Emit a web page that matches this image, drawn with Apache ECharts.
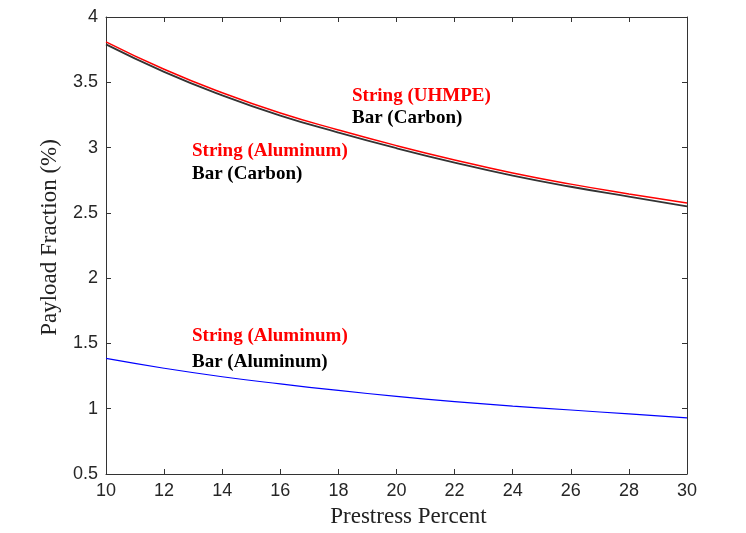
<!DOCTYPE html>
<html>
<head>
<meta charset="utf-8">
<script src="https://cdn.jsdelivr.net/npm/echarts@6/dist/echarts.min.js"></script>
<style>
    html, body { margin: 0; padding: 0; background: #fff; }
    #chart { width: 746px; height: 533px; }
</style>
</head>
<body>
<div id="chart"></div>
<script>
var prestress = [10, 12, 14, 16, 18, 20, 22, 24, 26, 28, 30];
var uhmpeCarbon = [3.81, 3.60, 3.42, 3.265, 3.135, 3.015, 2.905, 2.805, 2.72, 2.645, 2.575];
var aluCarbon = [3.79, 3.58, 3.40, 3.245, 3.115, 2.995, 2.885, 2.785, 2.70, 2.625, 2.55];
var aluAlu = [1.385, 1.31, 1.245, 1.19, 1.14, 1.095, 1.055, 1.02, 0.99, 0.96, 0.93];

var axisColor = '#333';
var chart = echarts.init(document.getElementById('chart'));

function pairs(vals) {
    return prestress.map(function (x, i) { return [x, vals[i]]; });
}
function line(name, vals, color, width) {
    return {
        name: name,
        type: 'line',
        data: pairs(vals),
        smooth: true,
        showSymbol: false,
        lineStyle: { color: color, width: width }
    };
}
var labelFont = 'bold 19px "Liberation Serif", "Times New Roman", serif';
function note(x, y, txt, color) {
    return { type: 'text', left: x, top: y, style: { text: txt, fill: color, font: labelFont } };
}

var option = {
    animation: false,
    grid: { left: 106, top: 17, right: 59, bottom: 59 },
    xAxis: [{
        type: 'value',
        min: 10, max: 30, interval: 2,
        name: 'Prestress Percent',
        nameLocation: 'middle',
        nameGap: 31,
        nameTextStyle: { fontFamily: 'Liberation Serif', fontSize: 23, color: '#222', padding: [0, 0, 0, 24] },
        axisLine: { lineStyle: { color: axisColor } },
        axisTick: { inside: true, length: 5, lineStyle: { color: axisColor } },
        axisLabel: { fontFamily: 'Liberation Sans', fontSize: 18, color: '#262626', margin: 8 },
        splitLine: { show: false }
    }, {
        type: 'value',
        position: 'top',
        min: 10, max: 30, interval: 2,
        axisLine: { show: true, lineStyle: { color: axisColor } },
        axisTick: { inside: true, length: 5, lineStyle: { color: axisColor } },
        axisLabel: { show: false },
        splitLine: { show: false }
    }],
    yAxis: [{
        type: 'value',
        min: 0.5, max: 4, interval: 0.5,
        name: 'Payload Fraction (%)',
        nameLocation: 'middle',
        nameGap: 45,
        nameTextStyle: { fontFamily: 'Liberation Serif', fontSize: 23, color: '#222', padding: [0, 0, 0, 16] },
        axisLine: { show: true, lineStyle: { color: axisColor } },
        axisTick: { show: true, inside: true, length: 5, lineStyle: { color: axisColor } },
        axisLabel: { fontFamily: 'Liberation Sans', fontSize: 18, color: '#262626', margin: 8 },
        splitLine: { show: false }
    }, {
        type: 'value',
        position: 'right',
        min: 0.5, max: 4, interval: 0.5,
        axisLine: { show: true, lineStyle: { color: axisColor } },
        axisTick: { show: true, inside: true, length: 5, lineStyle: { color: axisColor } },
        axisLabel: { show: false },
        splitLine: { show: false }
    }],
    series: [
        line('Bar (Carbon) / String (Aluminum)', aluCarbon, '#333', 1.8),
        line('Bar (Carbon) / String (UHMPE)', uhmpeCarbon, '#ff0000', 1.5),
        line('Bar (Aluminum) / String (Aluminum)', aluAlu, '#0000ff', 1.2)
    ],
    graphic: [
        note(352, 87, 'String (UHMPE)', '#ff0000'),
        note(352, 109, 'Bar (Carbon)', '#000'),
        note(192, 142, 'String (Aluminum)', '#ff0000'),
        note(192, 165, 'Bar (Carbon)', '#000'),
        note(192, 327, 'String (Aluminum)', '#ff0000'),
        note(192, 353, 'Bar (Aluminum)', '#000')
    ]
};
chart.setOption(option);
</script>
</body>
</html>
